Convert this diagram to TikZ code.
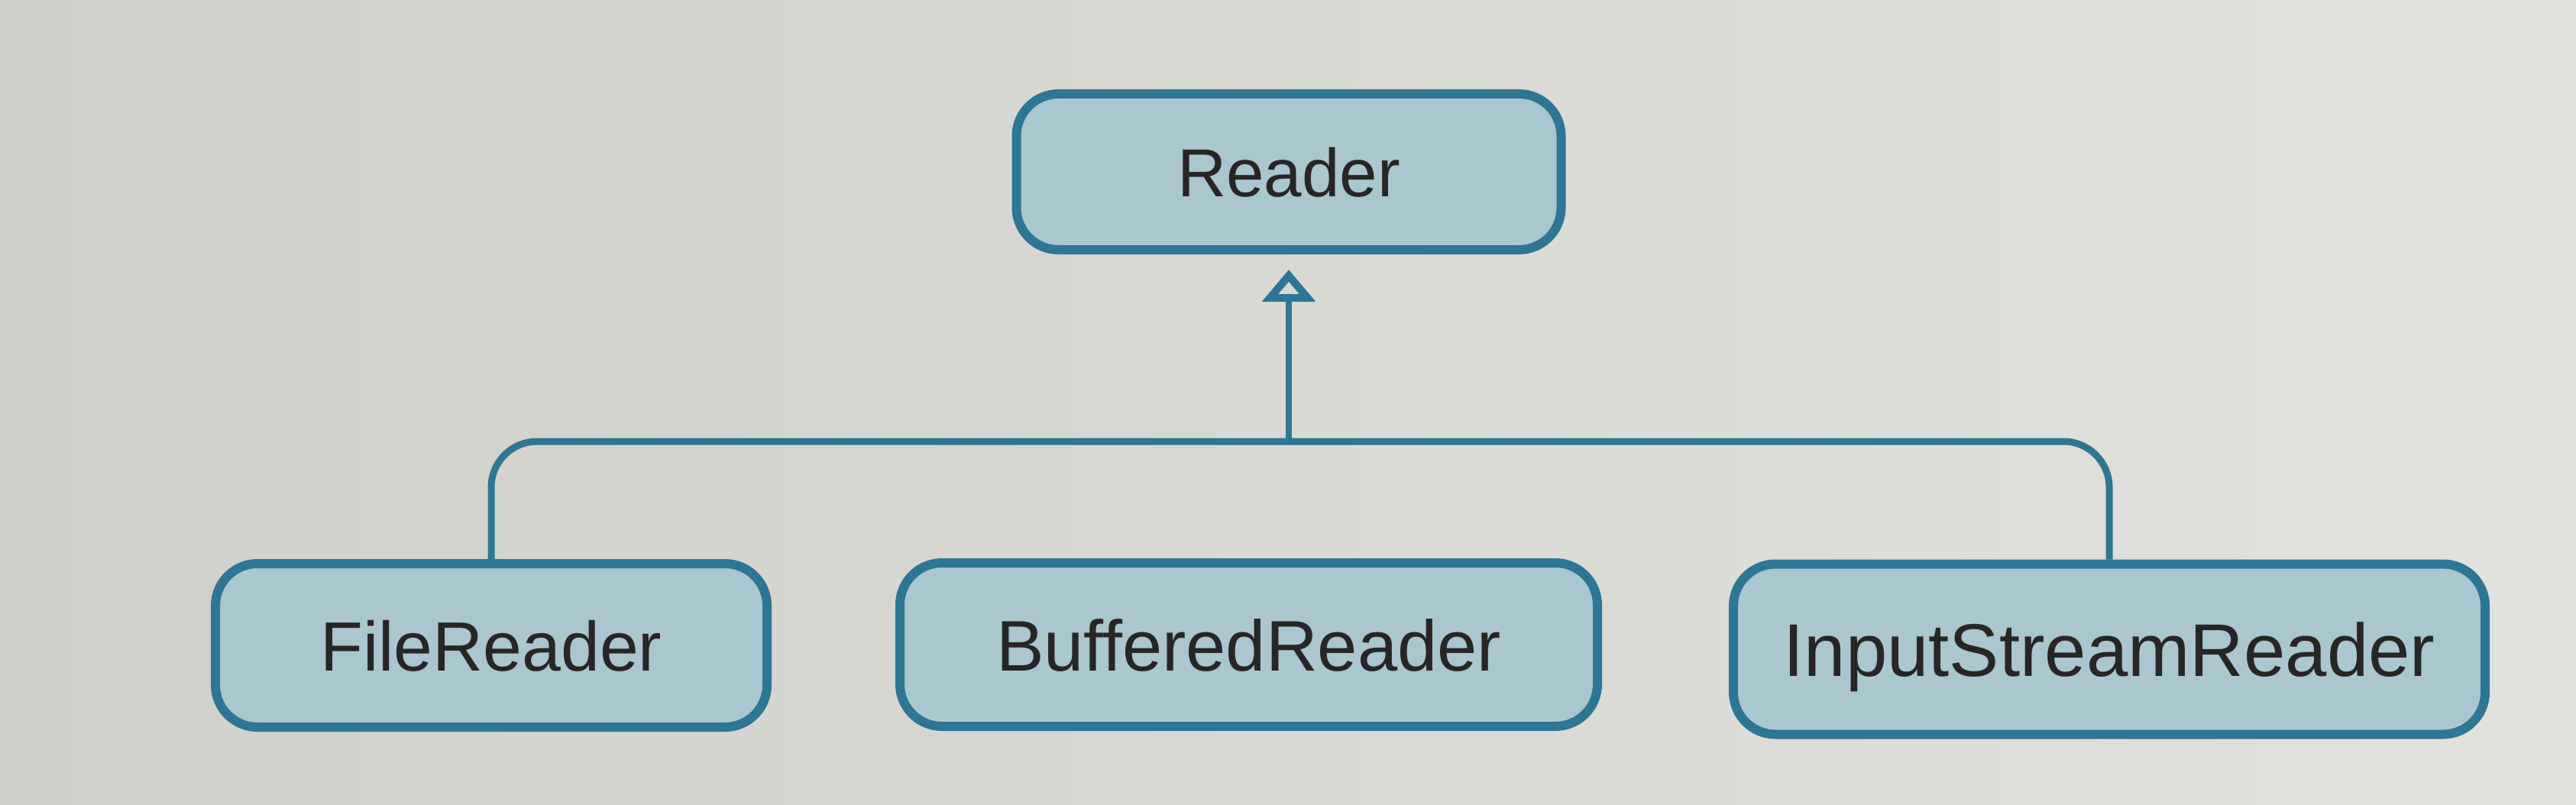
\documentclass[tikz,border=0pt]{standalone}
\usepackage{fontspec}
\setmainfont{Liberation Sans}
\usetikzlibrary{arrows.meta}
\definecolor{bordercol}{RGB}{45,118,148}
\definecolor{boxfill}{RGB}{170,198,207}
\definecolor{paperL}{RGB}{208,207,202}
\definecolor{paperR}{RGB}{226,226,222}
\definecolor{inkcol}{RGB}{38,38,38}
\begin{document}
\begin{tikzpicture}[
  cls/.style={draw=bordercol, line width=0.12cm, fill=boxfill, rounded corners=0.55cm,
    text=inkcol, inner sep=0pt, text depth=0pt},
  conn/.style={draw=bordercol, line width=0.09cm},
]
\fill[left color=paperL, right color=paperR] (0,0) rectangle (33.72,-10.54);
\useasboundingbox (0,0) rectangle (33.72,-10.54);

\node[cls, minimum width=7.13cm, minimum height=2.04cm, font=\fontsize{25.3}{30}\selectfont] (reader) at (16.87,-2.25) {Reader};
\node[cls, minimum width=7.22cm, minimum height=2.14cm, font=\fontsize{26}{31}\selectfont] (file) at (6.43,-8.45) {FileReader};
\node[cls, minimum width=9.13cm, minimum height=2.14cm, font=\fontsize{26.7}{32}\selectfont] (buffered) at (16.345,-8.44) {BufferedReader};
\node[cls, minimum width=9.84cm, minimum height=2.23cm, font=\fontsize{27.8}{33}\selectfont] (isr) at (27.61,-8.50) {InputStreamReader};

\coordinate (hub) at (reader.south |- 0,-5.78);
\draw[conn, rounded corners=0.6cm] (file.north) |- (hub) -| (isr.north);
\draw[conn, line width=0.08cm, -{Triangle[open, length=0.42cm, width=0.68cm, line width=0.1cm]}, shorten >=0.2cm] (hub) -- (reader.south);
\end{tikzpicture}
\end{document}
